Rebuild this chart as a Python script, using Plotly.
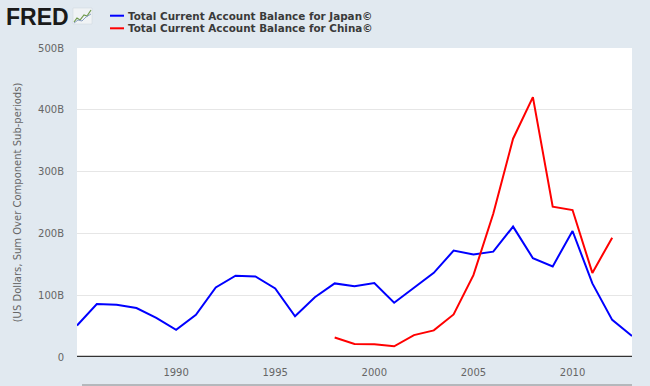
import plotly.graph_objects as go

years_japan = list(range(1985, 2014))
japan = [51, 85.8, 84.4, 79.2, 63.2, 44.1, 68.2, 112.6, 131.6, 130.3, 111.0, 65.8, 96.6,
         119.1, 114.6, 119.6, 87.8, 112.4, 136.2, 172.1, 165.7, 170.4, 211.0, 159.9,
         146.6, 203.9, 119.1, 60.1, 34.0]
years_china = list(range(1998, 2013))
china = [31.5, 21.1, 20.5, 17.4, 35.4, 43.1, 68.9, 132.4, 231.8, 353.2, 420.6, 243.3,
         237.8, 136.1, 193.1]

ytick_vals = [0, 100, 200, 300, 400, 500]
ytick_text = ["0", "100B", "200B", "300B", "400B", "500B"]
xtick_vals = [1990, 1995, 2000, 2005, 2010]

series_names = ["Total Current Account Balance for Japan©",
                "Total Current Account Balance for China©"]

BG = "#e1e9f0"
FONT = "DejaVu Sans"
L, R, T, B = 77, 18, 48, 29
W, H = 650, 386
PW, PH = W - L - R, H - T - B


def px(x):
    return (x - L) / PW


def py(y):
    return (H - B - y) / PH


fig = go.Figure()
fig.add_trace(go.Scatter(x=years_japan, y=japan, mode="lines", name=series_names[0],
                         line=dict(color="#0000ff", width=2), showlegend=False))
fig.add_trace(go.Scatter(x=years_china, y=china, mode="lines", name=series_names[1],
                         line=dict(color="#ff0000", width=2), showlegend=False))

fig.update_layout(
    width=W, height=H,
    paper_bgcolor=BG, plot_bgcolor="white",
    margin=dict(l=L, r=R, t=T, b=B, autoexpand=False),
    font=dict(family=FONT, color="#666666", size=10),
    xaxis=dict(range=[1985, 2013], tickvals=xtick_vals, showgrid=False, automargin=False,
               zeroline=False, showline=False, ticks="", ticklabelstandoff=8,
               tickfont=dict(size=10, color="#666666")),
    yaxis=dict(range=[0, 500], tickvals=ytick_vals, ticktext=ytick_text, automargin=False,
               showgrid=True, gridcolor="#e6e6e6", gridwidth=1,
               zeroline=False, showline=False, ticks="", ticklabelstandoff=12,
               tickfont=dict(size=10, color="#666666"),
               title=dict(text="(US Dollars, Sum Over Component Sub-periods)",
                          font=dict(size=10, color="#666666"), standoff=14)),
)

# zero baseline
fig.add_shape(type="line", xref="paper", yref="y", x0=0, x1=1, y0=0, y1=0,
              line=dict(color="#333333", width=2.5))
# bottom strip line
fig.add_shape(type="line", xref="paper", yref="paper", x0=px(82), x1=1, y0=py(385), y1=py(385),
              line=dict(color="#b4b8bc", width=2))

# legend drawn as annotations + line samples
leg_colors = ["#0000ff", "#ff0000"]
leg_y = [15.7, 28.3]
for name, col, yy in zip(series_names, leg_colors, leg_y):
    fig.add_shape(type="line", xref="paper", yref="paper",
                  x0=px(110), x1=px(124), y0=py(yy), y1=py(yy),
                  line=dict(color=col, width=2))
    fig.add_annotation(text="<b>" + name + "</b>", xref="paper", yref="paper",
                       x=px(126), y=py(yy), xanchor="left",
                       yanchor="middle", showarrow=False,
                       font=dict(family=FONT, size=10.4, color="#3a3a3a"))

# FRED logo
fig.add_annotation(text="<b>FRED</b>", xref="paper", yref="paper",
                   x=px(4), y=py(17.5), xanchor="left", yanchor="middle",
                   showarrow=False, font=dict(family="Liberation Sans", size=23, color="#1a1a1a"))
# small icon
fig.add_shape(type="rect", xref="paper", yref="paper",
              x0=px(73), x1=px(92), y0=py(24), y1=py(8),
              fillcolor="#f0f3f5", line=dict(color="#cfd6dc", width=0.5))


def path(points):
    return " ".join(("M" if i == 0 else "L") + f"{px(a)},{py(b)}" for i, (a, b) in enumerate(points))


fig.add_shape(type="path", xref="paper", yref="paper",
              path=path([(74, 22), (77, 18), (80, 20), (84, 15), (87, 16), (91, 10)]),
              line=dict(color="#6f9a4a", width=1.2))
fig.add_shape(type="path", xref="paper", yref="paper",
              path=path([(74, 23), (78, 20), (82, 21), (86, 17), (91, 14)]),
              line=dict(color="#8aa0c0", width=1))

fig.write_html(
    "out.html",
    config={"displayModeBar": False},
    post_script=("document.documentElement.style.overflow='hidden';"
                 "document.body.style.margin='0';document.body.style.overflow='hidden';"
                 "window.scrollTo(0,0);"),
)
